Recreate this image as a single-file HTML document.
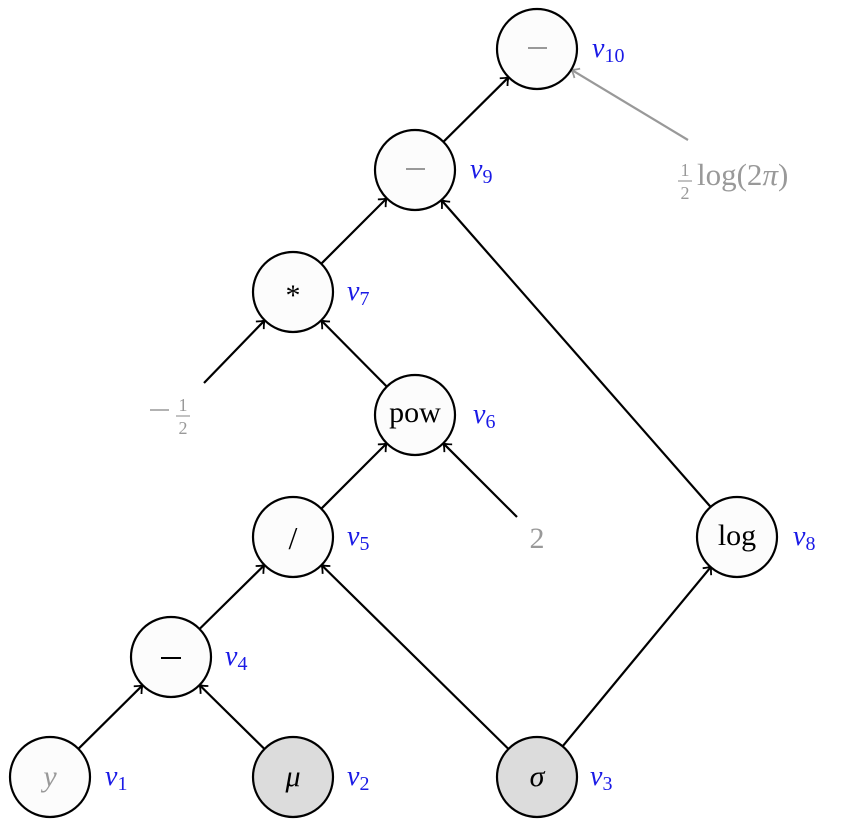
<!DOCTYPE html>
<html><head><meta charset="utf-8"><style>
html,body{margin:0;padding:0;background:#fff}
svg{display:block}
text{font-family:"Liberation Serif",serif}
.v{fill:#1a1ae6;font-style:italic;font-size:28px}
.s{font-size:20px;font-style:normal}
</style></head><body>
<svg width="843" height="837" viewBox="0 0 843 837">
<defs>
<marker id="a" markerUnits="userSpaceOnUse" markerWidth="16" markerHeight="16" refX="11" refY="8" orient="auto">
<path d="M4,2.5 Q8,6.5 11,8 Q8,9.5 4,13.5" fill="none" stroke="#000" stroke-width="1.8"/>
</marker>
<marker id="g" markerUnits="userSpaceOnUse" markerWidth="16" markerHeight="16" refX="11" refY="8" orient="auto">
<path d="M4,2.5 Q8,6.5 11,8 Q8,9.5 4,13.5" fill="none" stroke="#999" stroke-width="1.8"/>
</marker>
</defs>
<g stroke="#000" stroke-width="2.2" fill="none" marker-end="url(#a)">
<line x1="78.4" y1="748.8" x2="142.6" y2="685.2"/>
<line x1="264.5" y1="749" x2="199.5" y2="685"/>
<line x1="199.5" y1="629" x2="264.5" y2="565"/>
<line x1="508.5" y1="749" x2="321.5" y2="565"/>
<line x1="321.3" y1="508.7" x2="386.7" y2="443.3"/>
<line x1="517" y1="517" x2="443.3" y2="443.3"/>
<line x1="386.8" y1="386.6" x2="321.2" y2="320.4"/>
<line x1="204" y1="383" x2="264.7" y2="320.3"/>
<line x1="321.3" y1="263.7" x2="386.7" y2="198.3"/>
<line x1="710.6" y1="506.9" x2="441.4" y2="200.1"/>
<line x1="562.6" y1="746.3" x2="711.4" y2="566.3"/>
<line x1="443.4" y1="141.8" x2="508.6" y2="77.2"/>
</g>
<line x1="688" y1="140" x2="571.3" y2="69.7" stroke="#999" stroke-width="2.2" marker-end="url(#g)"/>
<g stroke="#000" stroke-width="2.2">
<circle cx="50" cy="777" r="40" fill="#fcfcfc"/>
<circle cx="293" cy="777" r="40" fill="#dcdcdc"/>
<circle cx="537" cy="777" r="40" fill="#dcdcdc"/>
<circle cx="171" cy="657" r="40" fill="#fcfcfc"/>
<circle cx="293" cy="537" r="40" fill="#fcfcfc"/>
<circle cx="415" cy="415" r="40" fill="#fcfcfc"/>
<circle cx="293" cy="292" r="40" fill="#fcfcfc"/>
<circle cx="737" cy="537" r="40" fill="#fcfcfc"/>
<circle cx="415" cy="170" r="40" fill="#fcfcfc"/>
<circle cx="537" cy="49" r="40" fill="#fcfcfc"/>
</g>
<g stroke-width="2">
<line x1="161" y1="658" x2="181" y2="658" stroke="#000"/>
<line x1="406" y1="169" x2="425" y2="169" stroke="#999"/>
<line x1="528" y1="48" x2="547" y2="48" stroke="#999"/>
<line x1="150" y1="410" x2="169" y2="410" stroke="#999" stroke-width="1.6"/>
</g>
<g font-size="30" text-anchor="middle">
<text x="50" y="786" fill="#999" font-style="italic">y</text>
<text x="293" y="786" font-style="italic">μ</text>
<text x="537" y="786" font-style="italic">σ</text>
<text x="293" y="549" font-size="32">/</text>
<text x="415" y="422">pow</text>
<text x="293" y="305">*</text>
<text x="737" y="545">log</text>
<text x="537" y="548" fill="#999">2</text>
</g>
<g fill="#999">
<text x="183" y="411" font-size="18" text-anchor="middle">1</text>
<line x1="176" y1="416" x2="190" y2="416" stroke="#999" stroke-width="1.2"/>
<text x="183" y="434" font-size="18" text-anchor="middle">2</text>
<text x="685" y="176" font-size="18" text-anchor="middle">1</text>
<line x1="678" y1="181" x2="692" y2="181" stroke="#999" stroke-width="1.2"/>
<text x="685" y="199" font-size="18" text-anchor="middle">2</text>
<text x="697" y="185" font-size="31">log(2<tspan font-style="italic">π</tspan>)</text>
</g>
<text class="v" x="105" y="785">v<tspan class="s" dy="5">1</tspan></text>
<text class="v" x="347" y="785">v<tspan class="s" dy="5">2</tspan></text>
<text class="v" x="590" y="785">v<tspan class="s" dy="5">3</tspan></text>
<text class="v" x="225" y="665">v<tspan class="s" dy="5">4</tspan></text>
<text class="v" x="347" y="545">v<tspan class="s" dy="5">5</tspan></text>
<text class="v" x="473" y="423">v<tspan class="s" dy="5">6</tspan></text>
<text class="v" x="347" y="300">v<tspan class="s" dy="5">7</tspan></text>
<text class="v" x="793" y="545">v<tspan class="s" dy="5">8</tspan></text>
<text class="v" x="470" y="178">v<tspan class="s" dy="5">9</tspan></text>
<text class="v" x="592" y="57">v<tspan class="s" dy="5">10</tspan></text>
</svg>
</body></html>
